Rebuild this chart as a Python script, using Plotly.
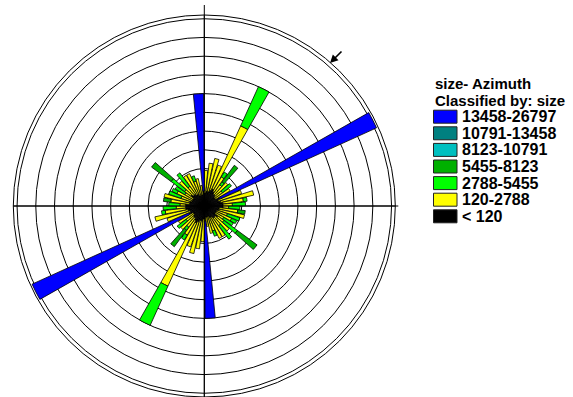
import plotly.graph_objects as go

# Azimuth bin centres (degrees, clockwise from north) for the 0-180 half of the rose.
azimuth = [3, 9, 15, 21, 27, 33, 39, 45, 51, 57, 63, 69, 75, 81, 87,
           93, 99, 105, 111, 117, 123, 129, 135, 141, 147, 153, 159, 165, 171, 177]

# Stacked segment lengths per size class (ring units), innermost class first.
seg_lt120 = [0.7, 0.8, 0.8, 0.9, 1.0, 0.9, 0.8, 0.8, 0.7, 0.7, 0.9, 0.8, 0.9, 1.0, 1.0,
             1.0, 0.8, 0.8, 0.7, 0.7, 0.7, 0.9, 0.8, 0.8, 0.7, 0.7, 0.6, 0.6, 0.6, 0.8]
seg_120_2788 = [1.2, 1.5, 1.8, 1.4, 3.7, 0.9, 0.6, 0.9, 0.5, 0.9, 0.0, 1.3, 1.8, 1.1, 0.5,
                0.3, 1.0, 1.4, 0.6, 0.9, 0.5, 0.4, 1.0, 0.5, 1.2, 1.2, 0.8, 0.9, 0.5, 0.0]
seg_2788_5455 = [0.0, 0.0, 0.0, 0.0, 2.3, 0.3, 0.2, 0.0, 0.6, 0.0, 0.0, 0.0, 0.0, 0.2, 0.7,
                 0.6, 0.0, 0.0, 0.7, 0.3, 0.6, 0.9, 0.0, 0.9, 0.0, 0.0, 0.3, 0.0, 0.0, 0.0]
seg_5455_8123 = [0.0, 0.0, 0.0, 0.0, 0.0, 0.0, 1.1, 0.0, 0.0, 0.0, 0.0, 0.0, 0.0, 0.0, 0.0,
                 0.0, 0.4, 0.0, 0.0, 0.0, 0.0, 1.3, 0.0, 0.0, 0.0, 0.0, 0.0, 0.0, 0.0, 0.0]
seg_8123_10791 = [0.0] * 30
seg_10791_13458 = [0.0] * 30
seg_13458_26797 = [0.0, 0.0, 0.0, 0.0, 0.0, 0.0, 0.0, 0.0, 0.0, 0.0, 9.2, 0.0, 0.0, 0.0, 0.0,
                   0.0, 0.0, 0.0, 0.0, 0.0, 0.0, 0.0, 0.0, 0.0, 0.0, 0.0, 0.0, 0.0, 0.0, 5.2]

class_labels = ["13458-26797", "10791-13458", "8123-10791", "5455-8123",
                "2788-5455", "120-2788", "< 120"]
class_colors = ["#0000ff", "#008080", "#00c0c0", "#00b000",
                "#00ff00", "#ffff00", "#000000"]
class_segments = [seg_13458_26797, seg_10791_13458, seg_8123_10791, seg_5455_8123,
                  seg_2788_5455, seg_120_2788, seg_lt120]

W, H = 573, 397
CX, CY, R = 204.3, 206.0, 191.0   # polar centre and outer radius in pixels
R_MAX = 10.2                      # radial range (ring units)

fig = go.Figure()

# Axial data: each azimuth is also plotted at its reciprocal direction.
theta_all = azimuth + [a + 180 for a in azimuth]

# Stack from the centre outwards: smallest class first.
for label, color, seg in reversed(list(zip(class_labels, class_colors, class_segments))):
    fig.add_trace(go.Barpolar(
        theta=theta_all,
        r=seg + seg,
        width=5.2,
        name=label,
        marker=dict(color=color, line=dict(color="#000000", width=0.8)),
        showlegend=False,
    ))

fig.update_layout(
    width=W, height=H,
    margin=dict(l=0, r=0, t=0, b=0),
    paper_bgcolor="white",
    font=dict(family="Liberation Sans, Arial, sans-serif", color="black"),
    polar=dict(
        domain=dict(x=[(CX - R) / W, (CX + R) / W], y=[0, 1 - (CY - R) / H]),
        bgcolor="rgba(0,0,0,0)",
        barmode="stack",
        radialaxis=dict(range=[0, R_MAX], tick0=0, dtick=1, showticklabels=False,
                        ticks="", showline=False, gridcolor="#000000", gridwidth=1),
        angularaxis=dict(rotation=90, direction="clockwise", dtick=90,
                         showticklabels=False, ticks="", gridcolor="#000000",
                         gridwidth=1, showline=True, linecolor="#000000", linewidth=1),
    ),
)

# Cross-hair axes extending slightly past the outer circle.
fig.add_shape(type="line", xref="paper", yref="paper", layer="below",
              x0=CX / W, x1=CX / W, y0=1 - 5 / H, y1=0,
              line=dict(color="black", width=1))
fig.add_shape(type="line", xref="paper", yref="paper", layer="below",
              x0=(CX - R) / W, x1=(CX + 194) / W, y0=1 - CY / H, y1=1 - CY / H,
              line=dict(color="black", width=1))

# Direction marker on the outer circle.
fig.add_annotation(x=330 / W, y=1 - 63 / H, xref="paper", yref="paper",
                   text="", showarrow=True, ax=13, ay=-13,
                   arrowhead=2, arrowsize=1, arrowwidth=1.6, arrowcolor="black")

# Legend block.
fig.add_annotation(x=433 / W, y=1 - 83 / H, xref="paper", yref="paper",
                   text="<b>size- Azimuth</b>", showarrow=False,
                   xanchor="left", yanchor="middle", font=dict(size=15))
fig.add_annotation(x=433 / W, y=1 - 100 / H, xref="paper", yref="paper",
                   text="<b>Classified by: size</b>", showarrow=False,
                   xanchor="left", yanchor="middle", font=dict(size=15))
for i, (label, color) in enumerate(zip(class_labels, class_colors)):
    yc = 116.7 + 16.6 * i
    fig.add_shape(type="rect", xref="paper", yref="paper",
                  x0=433.5 / W, x1=457 / W, y0=1 - (yc - 6.5) / H, y1=1 - (yc + 6.5) / H,
                  fillcolor=color, line=dict(color="#222222", width=1))
    fig.add_annotation(x=459.5 / W, y=1 - yc / H, xref="paper", yref="paper",
                       text="<b>" + label + "</b>", showarrow=False,
                       xanchor="left", yanchor="middle", font=dict(size=16))

fig.write_html("out.html")
